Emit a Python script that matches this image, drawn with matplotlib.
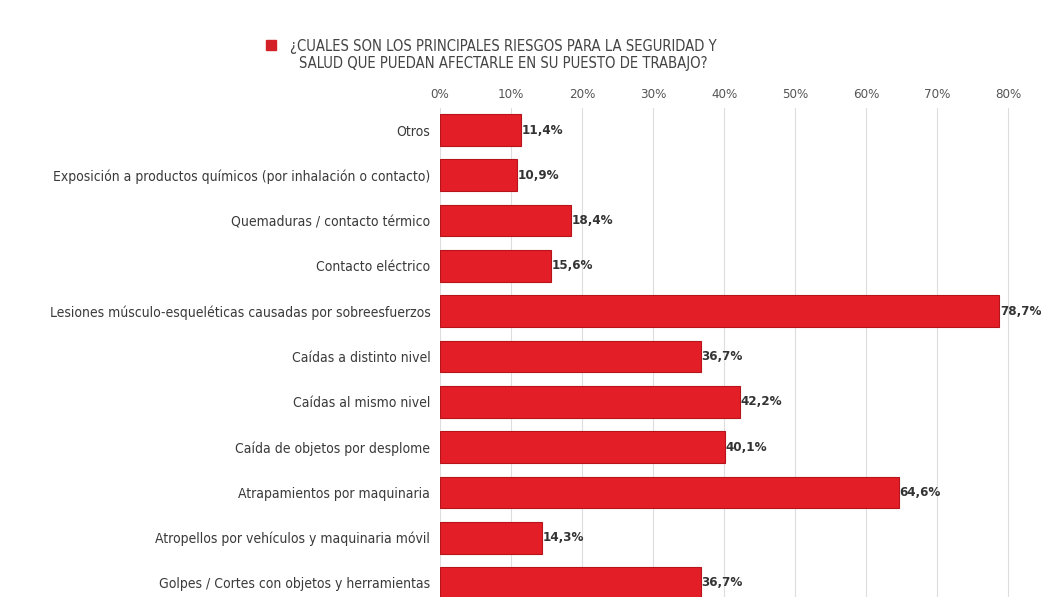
import matplotlib
matplotlib.use("Agg")
import matplotlib.pyplot as plt

categories = [
    "Otros",
    "Exposición a productos químicos (por inhalación o contacto)",
    "Quemaduras / contacto térmico",
    "Contacto eléctrico",
    "Lesiones músculo-esqueléticas causadas por sobreesfuerzos",
    "Caídas a distinto nivel",
    "Caídas al mismo nivel",
    "Caída de objetos por desplome",
    "Atrapamientos por maquinaria",
    "Atropellos por vehículos y maquinaria móvil",
    "Golpes / Cortes con objetos y herramientas",
]
values = [11.4, 10.9, 18.4, 15.6, 78.7, 36.7, 42.2, 40.1, 64.6, 14.3, 36.7]
value_labels = ["11,4%", "10,9%", "18,4%", "15,6%", "78,7%", "36,7%",
                "42,2%", "40,1%", "64,6%", "14,3%", "36,7%"]
ticks = [0, 10, 20, 30, 40, 50, 60, 70, 80]
tick_labels = ["0%", "10%", "20%", "30%", "40%", "50%", "60%", "70%", "80%"]
title = "¿CUALES SON LOS PRINCIPALES RIESGOS PARA LA SEGURIDAD Y\nSALUD QUE PUEDAN AFECTARLE EN SU PUESTO DE TRABAJO?"

plt.rcParams['font.family'] = ['DejaVu Sans']
plt.rcParams['font.stretch'] = 'condensed'
COND = dict(fontstretch='condensed')

W, H = 1041, 597
fig = plt.figure(figsize=(W / 100, H / 100), dpi=100)
ax = fig.add_axes([440 / W, 0, 572 / W, 1 - 108 / H])

y = list(range(len(categories)))
ax.barh(y, values, height=0.7, color="#e41e26", edgecolor="#b5141b", linewidth=0.8, zorder=3)
ax.set_ylim(len(categories) - 1 + 0.31, -0.486)
ax.set_xlim(0, 80.5)

ax.set_yticks(y)
ax.set_yticklabels(categories, fontsize=10, color="#3a3a3a", **COND)
ax.tick_params(axis="y", length=0, pad=7)

ax.xaxis.tick_top()
ax.set_xticks(ticks)
ax.set_xticklabels(tick_labels, fontsize=9.5, color="#555555", **COND)
ax.tick_params(axis="x", length=0, pad=5)
ax.grid(axis="x", color="#dddddd", linewidth=0.8, zorder=0)
for s in ax.spines.values():
    s.set_visible(False)

for yi, v, lab in zip(y, values, value_labels):
    ax.text(v + 0.1, yi, lab, va="center", ha="left", fontsize=9.5,
            fontweight="bold", color="#333333", clip_on=False, zorder=4, **COND)

fig.patches.append(plt.Rectangle((266 / W, 1 - 50 / H), 10 / W, 10 / H,
                                 transform=fig.transFigure, color="#d42027"))
fig.text(503 / W, 1 - 55 / H, title, ha="center", va="center", fontsize=10.6,
         color="#444444", linespacing=1.2, **COND)

fig.savefig("out.png", dpi=100)
